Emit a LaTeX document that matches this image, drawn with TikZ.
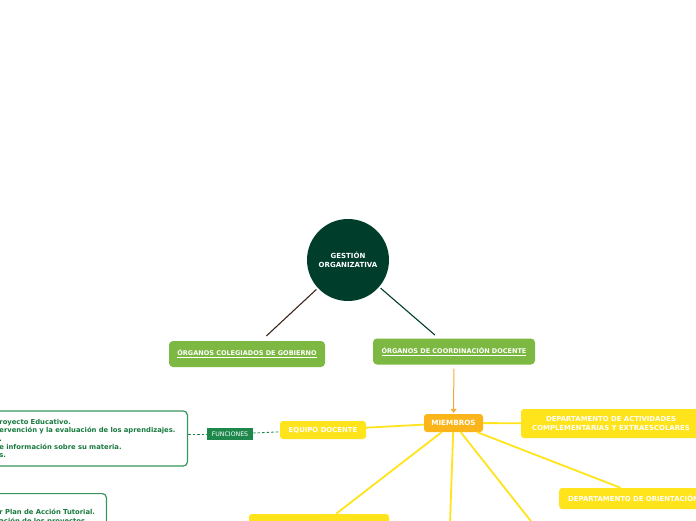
\documentclass[tikz,border=0pt]{standalone}
\usepackage{fontspec}
\setmainfont{DejaVu Sans}
\usepackage{xcolor}
\usetikzlibrary{arrows.meta, positioning, calc}
\definecolor{rootgreen}{RGB}{0,61,43}
\definecolor{leafgreen}{RGB}{124,184,66}
\definecolor{memberorange}{RGB}{251,180,26}
\definecolor{arroworange}{RGB}{246,168,50}
\definecolor{branchyellow}{RGB}{255,227,27}
\definecolor{tagGreen}{RGB}{30,136,76}
\definecolor{noteGreen}{RGB}{54,150,92}
\definecolor{noteText}{RGB}{24,122,62}
\definecolor{rootbrown}{RGB}{58,38,28}
\newcommand{\ul}[1]{\underline{#1}}

\begin{document}
\begin{tikzpicture}[
  x=1pt, y=-1pt,
  root/.style ={circle, fill=rootgreen, minimum size=82pt, inner sep=0pt,
                text=white, font=\fontsize{7}{9}\selectfont\bfseries, align=center},
  organ/.style={rounded corners=4pt, fill=leafgreen, minimum height=26pt, inner sep=0pt,
                text=white, font=\fontsize{6.5}{7}\selectfont\bfseries, align=center},
  member/.style={rounded corners=3pt, fill=memberorange, minimum width=59pt, minimum height=18pt,
                inner sep=0pt, text=white, font=\fontsize{7.2}{8}\selectfont\bfseries},
  branch/.style={rounded corners=3pt, fill=branchyellow, inner sep=0pt,
                text=white, font=\fontsize{6.9}{9}\selectfont\bfseries, align=center},
  tag/.style  ={fill=tagGreen, minimum width=46pt, minimum height=12pt, inner sep=0pt,
                text=white, font=\fontsize{6.2}{7}\selectfont},
  note/.style ={draw=noteGreen, line width=1.2pt, rounded corners=4pt, fill=white, align=left,
                inner xsep=6pt, inner ysep=4pt, text=noteText, font=\fontsize{6.8}{8.4}\selectfont\bfseries},
  link/.style ={line width=1.8pt, draw=branchyellow},
  dashlink/.style={dashed, dash pattern=on 2.5pt off 2pt, draw=tagGreen, line width=0.9pt},
  arr/.style  ={-{Triangle[width=6pt,length=4pt]}, draw=arroworange, line width=1pt}
]
\useasboundingbox (0,0) rectangle (696,520);

%% ---- Root ----
\node[root] (GO) at (348,260) {GESTIÓN\\ORGANIZATIVA};

%% ---- Organs ----
\node[organ, minimum width=156pt] (OG) at (247,354)   {\ul{ÓRGANOS COLEGIADOS DE GOBIERNO}};
\node[organ, minimum width=162pt] (OC) at (454,351.5) {\ul{ÓRGANOS DE COORDINACIÓN DOCENTE}};
\draw[rootbrown, line width=1.1pt, shorten <=2pt, shorten >=7pt] (GO) -- (OG);
\draw[rootgreen, line width=1.1pt, shorten <=2pt, shorten >=5pt] (GO) -- (OC);

%% ---- Members ----
\node[member] (MB) at (453.5,423) {MIEMBROS};
\draw[arr, shorten <=4pt, shorten >=1pt] (OC) -- (MB);

\node[branch, minimum width=86pt, minimum height=18pt] (ED) at (323,430) {EQUIPO DOCENTE};
\node[branch, minimum width=180pt, minimum height=29pt] (DAC) at (611,423.5)
  {DEPARTAMENTO DE ACTIVIDADES\\COMPLEMENTARIAS Y EXTRAESCOLARES};
\node[branch, anchor=west, minimum width=170pt, minimum height=21pt, inner xsep=9pt,
      text width=160pt, align=left] (DO) at (559,498.5) {DEPARTAMENTO DE ORIENTACIÓN};
\node[branch, minimum width=140pt, minimum height=26pt] (BX) at (319,527) {};
\coordinate (M5) at (448,580);
\coordinate (M6) at (560,558);

\draw[link] (MB) -- (ED);
\draw[link] (MB) -- (DAC);
\draw[link] (MB) -- (DO);
\draw[link] (MB) -- (BX);
\draw[link] (MB) -- (M5);
\draw[link] (MB) -- (M6);

%% ---- Functions ----
\node[tag] (FN) at (230,434) {FUNCIONES};
\node[note, anchor=east, text width=182pt, minimum height=55pt] (N1) at (188,438.5)
  {royecto Educativo.\\ervención y la evaluación de los aprendizajes.\\.\\e información sobre su materia.\\s.};
\node[note, anchor=north east, text width=101pt] (N2) at (107,493)
  {\rule{0pt}{17pt}r Plan de Acción Tutorial.\\ación de los proyectos\rule[-20pt]{0pt}{0pt}};

\draw[dashlink] (N1.east |- FN) -- (FN);
\draw[dashlink] (FN) -- (ED);

\end{tikzpicture}
\end{document}
